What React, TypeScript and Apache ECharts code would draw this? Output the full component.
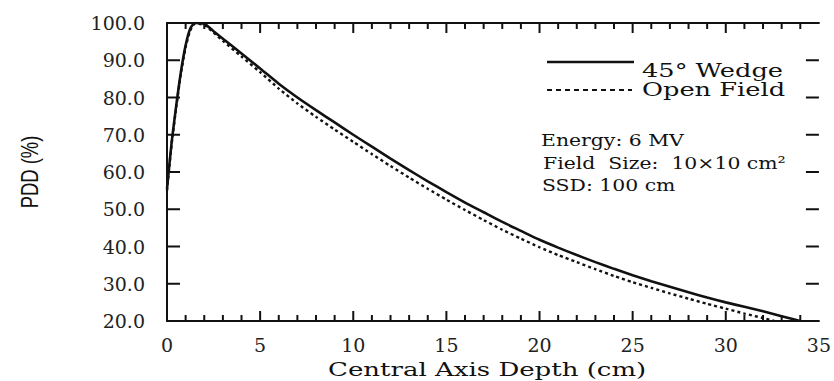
import React, { useEffect, useRef } from "react";
import * as echarts from "echarts";

// Central-axis depth (cm) sampled for both beams
const wedgeDepth = [0, 0.25, 0.5, 0.75, 1.0, 1.25, 1.5, 2.0, 2.5, 3, 4, 5, 6, 7, 8, 9, 10, 11, 12, 13, 14, 15, 16, 17, 18, 19, 20, 21, 22, 23, 24, 25, 26, 27, 28, 29, 30, 31, 32, 33, 34];
// Percent depth dose, 45° wedge
const wedgePdd = [55.5, 68, 78, 87, 94, 98.5, 100, 99.8, 97.8, 95.8, 91.8, 87.8, 83.7, 80.0, 76.6, 73.3, 70.0, 66.8, 63.6, 60.5, 57.5, 54.6, 51.8, 49.2, 46.6, 44.2, 41.8, 39.7, 37.7, 35.8, 34.0, 32.3, 30.7, 29.2, 27.7, 26.3, 25.0, 23.8, 22.6, 21.3, 20.0];

const openDepth = [0, 0.25, 0.5, 0.75, 1.0, 1.25, 1.5, 2.0, 2.5, 3, 4, 5, 6, 7, 8, 9, 10, 11, 12, 13, 14, 15, 16, 17, 18, 19, 20, 21, 22, 23, 24, 25, 26, 27, 28, 29, 30, 31, 32, 32.6];
// Percent depth dose, open field
const openPdd = [55, 67.5, 77.5, 86.5, 93.5, 98, 99.8, 99.5, 97.4, 95.2, 91.0, 86.8, 82.4, 78.4, 74.8, 71.4, 68.1, 64.8, 61.6, 58.5, 55.5, 52.6, 49.8, 47.1, 44.5, 42.1, 39.8, 37.7, 35.8, 33.9, 32.1, 30.4, 28.9, 27.4, 26.0, 24.6, 23.3, 22.0, 20.8, 20.0];

// Tick marks drawn on all four sides of the frame
const depthTicks = [1, 2, 3, 4, 5, 6, 7, 8, 9, 10, 11, 12, 13, 14, 15, 16, 17, 18, 19, 20, 21, 22, 23, 24, 25, 26, 27, 28, 29, 30, 31, 32, 33, 34];
const depthMajorTicks = [5, 10, 15, 20, 25, 30];
const pddTicks = [30, 40, 50, 60, 70, 80, 90];

const seriesNames = ["45° Wedge", "Open Field"];
const infoLines = ["Energy: 6 MV", "Field  Size:  10×10 cm²", "SSD: 100 cm"];
const xTitle = "Central Axis Depth (cm)";
const yTitle = "PDD (%)";

const X_MIN = 0;
const X_MAX = 35;
const Y_MIN = 20;
const Y_MAX = 100;

const SERIF = "'DejaVu Serif', serif";
const INK = "#111111";

export default function App() {
  const ref = useRef<HTMLDivElement>(null);

  useEffect(() => {
    if (!ref.current) return;
    const chart = echarts.init(ref.current, null, { renderer: "svg" });

    const axisLine = { show: true, lineStyle: { color: INK, width: 2 } };
    const tickStyle = { stroke: INK, lineWidth: 2, fill: "none" };

    // depth ticks sit on the bottom and top edges, pointing into the plot
    const renderDepthTick = (_params: any, api: any) => {
      const v = api.value(0);
      const len = depthMajorTicks.indexOf(v) >= 0 ? 10 : 6;
      const b = api.coord([v, Y_MIN]);
      const t = api.coord([v, Y_MAX]);
      return {
        type: "group",
        children: [
          { type: "line", shape: { x1: b[0], y1: b[1], x2: b[0], y2: b[1] - len }, style: tickStyle },
          { type: "line", shape: { x1: t[0], y1: t[1], x2: t[0], y2: t[1] + len }, style: tickStyle },
        ],
      };
    };

    // dose ticks sit on the left and right edges
    const renderPddTick = (_params: any, api: any) => {
      const v = api.value(1);
      const l = api.coord([X_MIN, v]);
      const r = api.coord([X_MAX, v]);
      return {
        type: "group",
        children: [
          { type: "line", shape: { x1: l[0], y1: l[1], x2: l[0] + 13, y2: l[1] }, style: tickStyle },
          { type: "line", shape: { x1: r[0], y1: r[1], x2: r[0] - 13, y2: r[1] }, style: tickStyle },
        ],
      };
    };

    chart.setOption({
      animation: false,
      backgroundColor: "#ffffff",
      grid: { left: 167, right: 15, top: 23, bottom: 60 },
      xAxis: [
        {
          type: "value",
          min: X_MIN,
          max: X_MAX,
          interval: 5,
          position: "bottom",
          axisLine,
          axisTick: { show: false },
          splitLine: { show: false },
          axisLabel: { fontFamily: SERIF, fontSize: 19, color: "#222", margin: 14 },
        },
        {
          type: "value",
          min: X_MIN,
          max: X_MAX,
          interval: 5,
          position: "top",
          axisLine,
          axisTick: { show: false },
          splitLine: { show: false },
          axisLabel: { show: false },
        },
      ],
      yAxis: [
        {
          type: "value",
          min: Y_MIN,
          max: Y_MAX,
          interval: 10,
          position: "left",
          axisLine,
          axisTick: { show: false },
          splitLine: { show: false },
          axisLabel: {
            fontFamily: SERIF,
            fontSize: 19,
            color: "#222",
            margin: 22,
            formatter: (v: number) => v.toFixed(1),
          },
        },
        {
          type: "value",
          min: Y_MIN,
          max: Y_MAX,
          interval: 10,
          position: "right",
          axisLine,
          axisTick: { show: false },
          splitLine: { show: false },
          axisLabel: { show: false },
        },
      ],
      series: [
        {
          name: seriesNames[0],
          type: "line",
          xAxisIndex: 0,
          yAxisIndex: 0,
          showSymbol: false,
          smooth: 0.2,
          clip: true,
          lineStyle: { color: INK, width: 2.6 },
          data: wedgeDepth.map((d, i) => [d, wedgePdd[i]]),
        },
        {
          name: seriesNames[1],
          type: "line",
          xAxisIndex: 0,
          yAxisIndex: 0,
          showSymbol: false,
          smooth: 0.2,
          clip: true,
          lineStyle: { color: INK, width: 2.4, type: [3, 3] },
          data: openDepth.map((d, i) => [d, openPdd[i]]),
        },
        {
          name: "depth ticks",
          type: "custom",
          xAxisIndex: 0,
          yAxisIndex: 0,
          silent: true,
          clip: false,
          z: 5,
          renderItem: renderDepthTick,
          data: depthTicks.map((v) => [v, Y_MIN]),
        },
        {
          name: "dose ticks",
          type: "custom",
          xAxisIndex: 0,
          yAxisIndex: 0,
          silent: true,
          clip: false,
          z: 5,
          renderItem: renderPddTick,
          data: pddTicks.map((v) => [X_MIN, v]),
        },
      ],
      graphic: [
        // legend samples
        {
          type: "line",
          shape: { x1: 547, y1: 62, x2: 634, y2: 62 },
          style: { stroke: INK, lineWidth: 2.4 },
        },
        {
          type: "line",
          shape: { x1: 547, y1: 90, x2: 632, y2: 90 },
          style: { stroke: INK, lineWidth: 2, lineDash: [5, 4] },
        },
        {
          type: "text",
          x: 642,
          y: 70,
          scaleX: 1.35,
          style: {
            text: seriesNames[0],
            font: `19px ${SERIF}`,
            fill: INK,
            textAlign: "left",
            textVerticalAlign: "middle",
          },
        },
        {
          type: "text",
          x: 642,
          y: 89,
          scaleX: 1.35,
          style: {
            text: seriesNames[1],
            font: `19px ${SERIF}`,
            fill: INK,
            textAlign: "left",
            textVerticalAlign: "middle",
          },
        },
        // beam parameters
        ...infoLines.map((t, i) => ({
          type: "text",
          x: [541, 543, 542][i],
          y: [140, 163, 185][i],
          scaleX: 1.2,
          style: {
            text: t,
            font: `17px ${SERIF}`,
            fill: INK,
            textAlign: "left",
            textVerticalAlign: "middle",
          },
        })),
        // axis titles
        {
          type: "text",
          x: 328,
          y: 369,
          scaleX: 1.37,
          style: {
            text: xTitle,
            font: `19px ${SERIF}`,
            fill: INK,
            textAlign: "left",
            textVerticalAlign: "middle",
          },
        },
        {
          type: "text",
          x: 30,
          y: 172,
          rotation: Math.PI / 2,
          scaleX: 0.8,
          style: {
            text: yTitle,
            font: `23px 'Liberation Sans', Arial, sans-serif`,
            fill: INK,
            textAlign: "center",
            textVerticalAlign: "middle",
          },
        },
      ],
    });

    return () => chart.dispose();
  }, []);

  return (
    <div
      ref={ref}
      style={{ position: "fixed", left: 0, top: 0, width: 834, height: 381, background: "#fff" }}
    />
  );
}
